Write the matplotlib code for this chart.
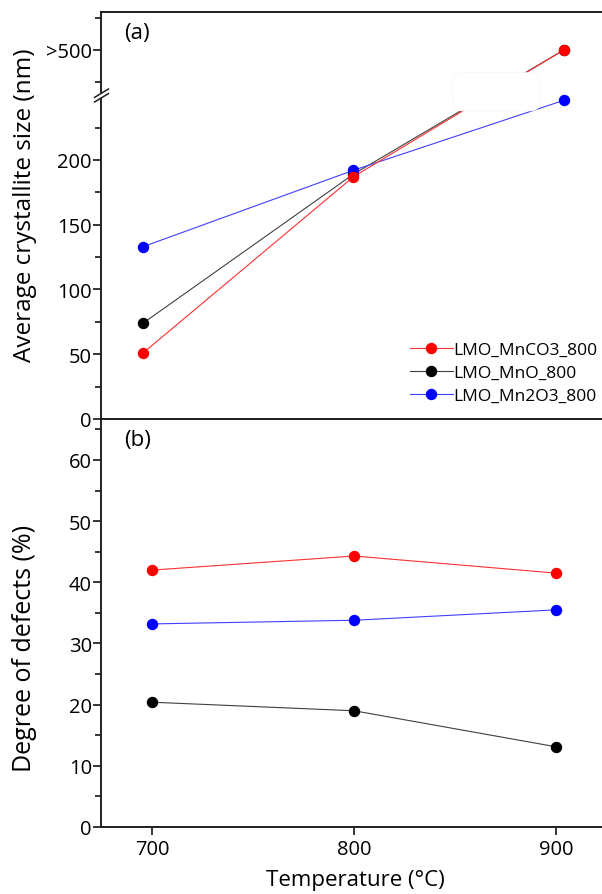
import numpy as np
import matplotlib
matplotlib.use("Agg")
import matplotlib.pyplot as plt
from matplotlib.path import Path
from matplotlib.patches import FancyBboxPatch
import matplotlib.transforms as mtransforms

plt.rcParams['font.family'] = ['Open Sans', 'DejaVu Sans']

# ---------------- data ----------------
temps = [700, 800, 900]
size_mnco3 = [51, 187, 500]     # 900 °C value is ">500"
size_mno = [74, 189, 500]
size_mn2o3 = [133, 192, 246]
defect_mnco3 = [42.0, 44.3, 41.5]
defect_mno = [20.4, 19.0, 13.1]
defect_mn2o3 = [33.2, 33.8, 35.5]
labels = ['LMO_MnCO3_800', 'LMO_MnO_800', 'LMO_Mn2O3_800']
colors = ['#ff0000', '#000000', '#0000ff']
line_colors = ['#ff3030', '#404040', '#4040ff']
yticks_a = [0, 50, 100, 150, 200, 500]
yticklabels_a = ['0', '50', '100', '150', '200', '>500']
yticks_b = [0, 10, 20, 30, 40, 50, 60]
xticks = [700, 800, 900]

# ---------------- broken scale for panel (a) ----------------
B1, B2, K, EPS = 250.0, 430.0, 0.496, 1e-3
OFF = (B2 - B1) * EPS

def fwd(y):
    y = np.asarray(y, dtype=float)
    return np.where(y <= B1, y,
                    np.where(y >= B2, B1 + OFF + (y - B2) * K,
                             B1 + (y - B1) * EPS))

def inv(t):
    t = np.asarray(t, dtype=float)
    return np.where(t <= B1, t,
                    np.where(t >= B1 + OFF, B2 + (t - B1 - OFF) / K,
                             B1 + (t - B1) / EPS))

W, H = 602, 895
fig = plt.figure(figsize=(W / 100, H / 100), dpi=100)

left = 101 / W
right = 606 / W
ax_a = fig.add_axes([left, 1 - 420 / H, right - left, (420 - 13) / H])
ax_b = fig.add_axes([left, 1 - 828 / H, right - left, (828 - 420) / H])

TICK_FS = 14.5
LABEL_FS = 17.5
spine_lw = 1.4
for ax in (ax_a, ax_b):
    for s in ax.spines.values():
        s.set_linewidth(spine_lw)
        s.set_color('#202020')

# ---- panel (a)
ax_a.set_yscale('function', functions=(fwd, inv))
ax_a.set_ylim(0, 559)
ax_a.set_xlim(680, 920)

series_a = [size_mnco3, size_mno, size_mn2o3]
zorders = [5, 3, 4]
handles = []
for vals, c, lc, lab, z in zip(series_a, colors, line_colors, labels, zorders):
    h, = ax_a.plot(temps, vals, '-', color=lc, lw=0.8, marker='o', ms=7.2,
                   mfc=c, mec=c, label=lab, zorder=z)
    handles.append(h)

ax_a.set_yticks(yticks_a)
ax_a.set_yticklabels(yticklabels_a)
ax_a.set_yticks([25, 75, 125, 175, 225, 450, 550], minor=True)
ax_a.set_xticks([])
ax_a.tick_params(axis='y', which='major', direction='out', length=6, width=1.1,
                 labelsize=TICK_FS, pad=0.5)
ax_a.tick_params(axis='y', which='minor', direction='out', length=4, width=1.1)

# white box covering the break
box = FancyBboxPatch((0.697, 0.757), 0.172, 0.094, boxstyle='round,pad=0,rounding_size=0.02',
                     transform=ax_a.transAxes, facecolor='white', edgecolor='#f6f6f6',
                     lw=0.5, zorder=6)
ax_a.add_patch(box)

# break marks on left spine
tr = mtransforms.blended_transform_factory(ax_a.transAxes, ax_a.transData)
gap_marker = Path([(-0.5, -0.45), (0.5, 0.15), (0.5, 0.45), (-0.5, -0.15), (-0.5, -0.45)],
                  [Path.MOVETO, Path.LINETO, Path.LINETO, Path.LINETO, Path.CLOSEPOLY])
ax_a.plot([0], [B1], transform=tr, marker=gap_marker, ms=11, mfc='white', mec='white',
          mew=0, clip_on=False, zorder=10)
slash_marker = Path([(-0.5, -0.45), (0.5, 0.15), (-0.5, -0.15), (0.5, 0.45)],
                    [Path.MOVETO, Path.LINETO, Path.MOVETO, Path.LINETO])
ax_a.plot([0], [B1], transform=tr, marker=slash_marker, ms=11, mfc='none', mec='#202020',
          mew=1.1, clip_on=False, zorder=11)

ax_a.text(0.045, 0.975, '(a)', transform=ax_a.transAxes, fontsize=16, va='top', ha='left')
ax_a.set_ylabel('Average crystallite size (nm)', fontsize=LABEL_FS)
ax_a.yaxis.set_label_coords(-0.126, 0.527)

leg = ax_a.legend(handles=handles, loc='upper left', bbox_to_anchor=(0.611, 0.19),
                  frameon=False, fontsize=12.5, handlelength=2.5, handletextpad=0.0,
                  labelspacing=0.4, borderpad=0, borderaxespad=0)

# ---- panel (b)
series_b = [defect_mnco3, defect_mno, defect_mn2o3]
for vals, c, lc, z in zip(series_b, colors, line_colors, zorders):
    ax_b.plot(temps, vals, '-', color=lc, lw=0.8, marker='o', ms=7.2, mfc=c, mec=c, zorder=z)

ax_b.set_xlim(674.8, 924.5)
ax_b.set_ylim(0, 66.7)
ax_b.set_yticks(yticks_b)
ax_b.set_yticks(np.arange(5, 70, 10), minor=True)
ax_b.set_xticks(xticks)
ax_b.tick_params(axis='y', which='major', direction='out', length=6, width=1.1,
                 labelsize=TICK_FS, pad=0.5)
ax_b.tick_params(axis='x', which='major', direction='out', length=6, width=1.1,
                 labelsize=TICK_FS, pad=3)
ax_b.tick_params(axis='y', which='minor', direction='out', length=4, width=1.1)
ax_b.text(0.045, 0.975, '(b)', transform=ax_b.transAxes, fontsize=16, va='top', ha='left')
ax_b.set_ylabel('Degree of defects (%)', fontsize=18)
ax_b.yaxis.set_label_coords(-0.126, 0.441)
ax_b.set_xlabel('Temperature (°C)', fontsize=16)
ax_b.xaxis.set_label_coords(0.503, -0.103)

fig.savefig('out.png', dpi=100)
